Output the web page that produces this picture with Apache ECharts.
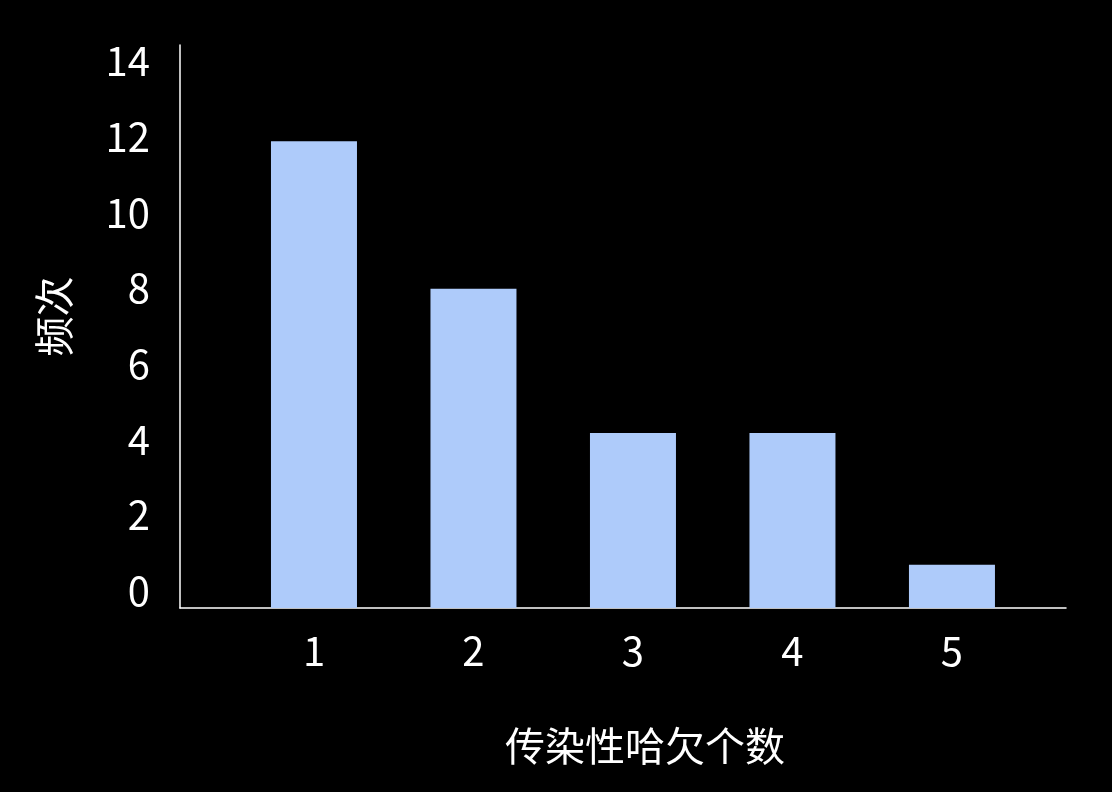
<!DOCTYPE html>
<html>
<head>
<meta charset="utf-8">
<script src="https://cdn.jsdelivr.net/npm/echarts@6/dist/echarts.min.js"></script>
<style>
  html, body { margin: 0; padding: 0; background: #000; }
  #chart { width: 1112px; height: 792px; }
</style>
</head>
<body>
<div id="chart"></div>
<script>
// 传染性哈欠个数 vs 频次
var yawnCounts = [1, 2, 3, 4, 5];
var frequencies = [12.33, 8.43, 4.62, 4.62, 1.14];
var yTicks = [0, 2, 4, 6, 8, 10, 12, 14];

var fontName = 'Noto Sans CJK SC';

function drawChart() {
  var chartDom = document.getElementById('chart');
  var chart = echarts.init(chartDom);

  var barData = yawnCounts.map(function (x, i) {
    return [x, frequencies[i]];
  });

  var option = {
    backgroundColor: '#000',
    animation: false,
    grid: {
      left: 180,
      right: 46,
      top: 45,
      bottom: 184
    },
    xAxis: {
      type: 'value',
      min: 0.16,
      max: 5.715,
      name: '传染性哈欠个数',
      nameLocation: 'middle',
      nameGap: 118,
      nameTextStyle: {
        color: '#fff',
        fontSize: 40,
        fontFamily: fontName,
        padding: [0, 0, 0, 44]
      },
      axisLine: { show: true, lineStyle: { color: '#fff', width: 1.5 } },
      axisTick: { show: false },
      splitLine: { show: false },
      axisLabel: {
        customValues: yawnCounts,
        color: '#fff',
        fontSize: 40,
        fontFamily: fontName,
        margin: 23
      }
    },
    yAxis: {
      type: 'value',
      min: 0,
      max: 14.87,
      name: '频次',
      nameLocation: 'middle',
      nameRotate: 90,
      nameGap: 106,
      nameTextStyle: {
        color: '#fff',
        fontSize: 40,
        fontFamily: fontName,
        padding: [0, 0, 0, 20]
      },
      axisLine: { show: true, lineStyle: { color: '#fff', width: 1.5 } },
      axisTick: { show: false },
      splitLine: { show: false },
      axisLabel: {
        customValues: yTicks,
        color: '#fff',
        fontSize: 40,
        fontFamily: fontName,
        margin: 30,
        verticalAlign: 'bottom',
        lineHeight: 34
      }
    },
    series: [{
      type: 'bar',
      data: barData,
      barWidth: 86,
      itemStyle: { color: '#AECBFA' }
    }]
  };

  chart.setOption(option, true);
}

drawChart();
</script>
</body>
</html>
